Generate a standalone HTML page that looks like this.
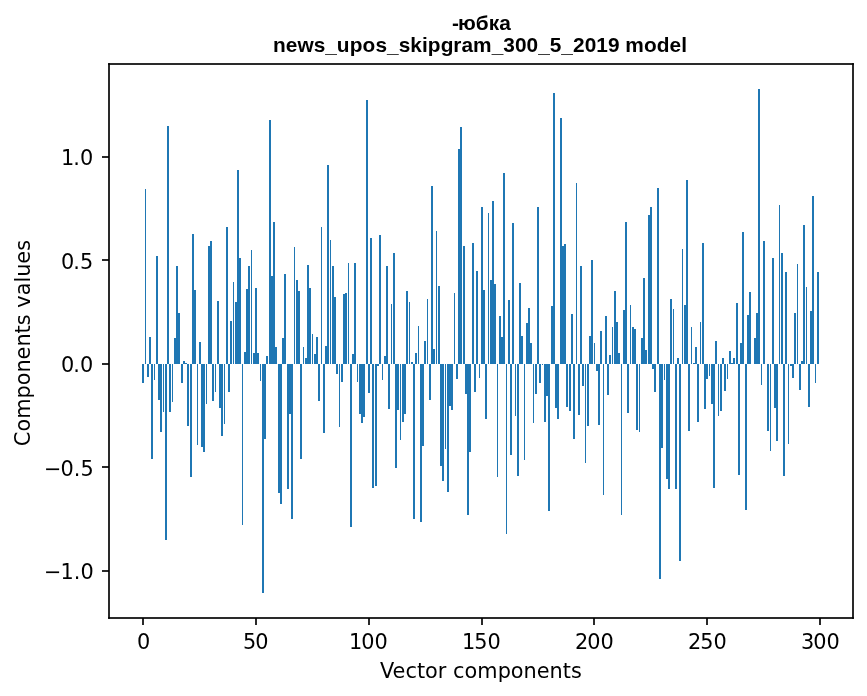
<!DOCTYPE html>
<html lang="ru">
<head>
<meta charset="utf-8">
<title>-юбка news_upos_skipgram_300_5_2019 model</title>
<style>
html,body{margin:0;padding:0;background:#fff;overflow:hidden}
svg{display:block}
text{fill:#000}
.d{font-family:"DejaVu Sans","Liberation Sans",sans-serif;font-size:20.8333px}
.b{font-family:"Liberation Sans","DejaVu Sans",sans-serif;font-size:20.8333px;font-weight:700}
</style>
</head>
<body>
<svg width="867" height="696" viewBox="0 0 867 696">
<rect width="867" height="696" fill="#fff"/>
<g shape-rendering="crispEdges">
<path fill="#1f77b4" d="M142 364h2v19h-2zM145 189h1v175h-1zM147 364h2v13h-2zM149 337h2v27h-2zM151 364h2v95h-2zM154 364h1v16h-1zM156 256h2v108h-2zM158 364h2v36h-2zM160 364h2v68h-2zM163 364h1v48h-1zM165 364h2v176h-2zM167 126h2v238h-2zM169 364h2v48h-2zM172 364h1v38h-1zM174 338h2v26h-2zM176 266h2v98h-2zM178 313h2v51h-2zM181 364h2v19h-2zM183 361h2v3h-2zM185 363h2v1h-2zM187 364h2v62h-2zM190 364h2v113h-2zM192 234h2v130h-2zM194 290h2v74h-2zM197 364h1v81h-1zM199 342h2v22h-2zM201 364h2v83h-2zM203 364h2v88h-2zM206 364h1v40h-1zM208 246h2v118h-2zM210 241h2v123h-2zM212 364h2v37h-2zM215 364h1v28h-1zM217 301h2v63h-2zM219 364h2v44h-2zM221 364h2v72h-2zM224 364h1v60h-1zM226 227h2v137h-2zM228 364h2v28h-2zM230 321h2v43h-2zM233 282h1v82h-1zM235 302h2v62h-2zM237 170h2v194h-2zM239 258h2v106h-2zM242 364h1v161h-1zM244 352h2v12h-2zM246 289h2v75h-2zM248 266h2v98h-2zM251 250h1v114h-1zM253 353h2v11h-2zM255 288h2v76h-2zM257 353h2v11h-2zM260 364h1v17h-1zM262 364h2v229h-2zM264 364h2v75h-2zM266 356h2v8h-2zM269 120h2v244h-2zM271 276h2v88h-2zM273 222h2v142h-2zM275 347h2v17h-2zM278 364h2v129h-2zM280 364h2v140h-2zM282 338h2v26h-2zM284 274h2v90h-2zM287 364h2v125h-2zM289 364h2v50h-2zM291 364h2v155h-2zM294 247h1v117h-1zM296 280h2v84h-2zM298 291h2v73h-2zM300 364h2v95h-2zM303 347h1v17h-1zM305 358h2v6h-2zM307 265h2v99h-2zM309 288h2v76h-2zM312 334h1v30h-1zM314 354h2v10h-2zM316 337h2v27h-2zM318 364h2v37h-2zM321 227h1v137h-1zM323 364h2v69h-2zM325 346h2v18h-2zM327 165h2v199h-2zM330 240h1v124h-1zM332 266h2v98h-2zM334 297h2v67h-2zM336 364h2v10h-2zM339 364h1v63h-1zM341 364h2v18h-2zM343 294h2v70h-2zM345 293h2v71h-2zM348 263h1v101h-1zM350 364h2v163h-2zM352 354h2v10h-2zM354 263h2v101h-2zM357 364h1v18h-1zM359 364h2v50h-2zM361 364h2v59h-2zM363 364h2v53h-2zM366 100h2v264h-2zM368 364h2v29h-2zM370 238h2v126h-2zM372 364h2v124h-2zM375 364h2v122h-2zM377 364h2v2h-2zM379 235h2v129h-2zM382 364h1v16h-1zM384 356h2v8h-2zM386 266h2v98h-2zM388 364h2v45h-2zM391 304h1v60h-1zM393 253h2v111h-2zM395 364h2v104h-2zM397 364h2v46h-2zM400 364h1v76h-1zM402 364h2v58h-2zM404 364h2v50h-2zM406 291h2v73h-2zM409 302h1v62h-1zM411 362h2v2h-2zM413 364h2v155h-2zM415 353h2v11h-2zM418 326h1v38h-1zM420 364h2v158h-2zM422 364h2v82h-2zM424 341h2v23h-2zM427 299h1v65h-1zM429 364h2v36h-2zM431 186h2v178h-2zM433 349h2v15h-2zM436 231h1v133h-1zM438 286h2v78h-2zM440 364h2v102h-2zM442 364h2v117h-2zM445 364h1v85h-1zM447 364h2v128h-2zM449 364h2v42h-2zM451 364h2v46h-2zM454 293h1v71h-1zM456 364h2v15h-2zM458 149h2v215h-2zM460 127h2v237h-2zM463 246h2v118h-2zM465 364h2v30h-2zM467 364h2v151h-2zM469 364h2v88h-2zM472 243h2v121h-2zM474 364h2v28h-2zM476 271h2v93h-2zM479 364h1v14h-1zM481 207h2v157h-2zM483 290h2v74h-2zM485 364h2v55h-2zM488 213h1v151h-1zM490 280h2v84h-2zM492 201h2v163h-2zM494 284h2v80h-2zM497 364h1v113h-1zM499 316h2v48h-2zM501 337h2v27h-2zM503 173h2v191h-2zM506 364h1v170h-1zM508 300h2v64h-2zM510 364h2v91h-2zM512 223h2v141h-2zM515 364h1v52h-1zM517 364h2v112h-2zM519 283h2v81h-2zM521 336h2v28h-2zM524 364h1v96h-1zM526 323h2v41h-2zM528 308h2v56h-2zM530 343h2v21h-2zM533 364h1v59h-1zM535 364h2v30h-2zM537 207h2v157h-2zM539 364h2v19h-2zM542 364h1v1h-1zM544 364h2v58h-2zM546 364h2v32h-2zM548 364h2v147h-2zM551 306h2v58h-2zM553 93h2v271h-2zM555 364h2v44h-2zM557 364h2v55h-2zM560 118h2v246h-2zM562 246h2v118h-2zM564 244h2v120h-2zM566 364h2v43h-2zM569 364h2v47h-2zM571 314h2v50h-2zM573 364h2v75h-2zM576 183h1v181h-1zM578 364h2v51h-2zM580 266h2v98h-2zM582 364h2v22h-2zM585 364h1v99h-1zM587 364h2v62h-2zM589 336h2v28h-2zM591 260h2v104h-2zM594 343h1v21h-1zM596 364h2v7h-2zM598 364h2v61h-2zM600 331h2v33h-2zM603 364h1v131h-1zM605 316h2v48h-2zM607 364h2v31h-2zM609 355h2v9h-2zM612 327h1v37h-1zM614 291h2v73h-2zM616 322h2v42h-2zM618 353h2v11h-2zM621 364h1v151h-1zM623 310h2v54h-2zM625 222h2v142h-2zM627 364h2v49h-2zM630 305h1v59h-1zM632 327h2v37h-2zM634 329h2v35h-2zM636 364h2v66h-2zM639 364h1v68h-1zM641 338h2v26h-2zM643 278h2v86h-2zM645 350h2v14h-2zM648 215h2v149h-2zM650 207h2v157h-2zM652 364h2v5h-2zM654 364h2v28h-2zM657 188h2v176h-2zM659 364h2v215h-2zM661 364h2v84h-2zM664 364h1v16h-1zM666 364h2v115h-2zM668 364h2v125h-2zM670 299h2v65h-2zM673 309h1v55h-1zM675 364h2v125h-2zM677 358h2v6h-2zM679 364h2v197h-2zM682 249h1v115h-1zM684 305h2v59h-2zM686 180h2v184h-2zM688 364h2v67h-2zM691 327h1v37h-1zM693 363h2v1h-2zM695 347h2v17h-2zM697 364h2v58h-2zM700 322h1v42h-1zM702 243h2v121h-2zM704 364h2v45h-2zM706 364h2v15h-2zM709 364h1v12h-1zM711 364h2v40h-2zM713 364h2v124h-2zM715 341h2v23h-2zM718 364h1v52h-1zM720 364h2v47h-2zM722 358h2v6h-2zM724 364h2v27h-2zM727 364h1v15h-1zM729 351h2v13h-2zM731 363h2v1h-2zM733 358h2v6h-2zM736 303h2v61h-2zM738 364h2v111h-2zM740 343h2v21h-2zM742 232h2v132h-2zM745 364h2v146h-2zM747 315h2v49h-2zM749 292h2v72h-2zM754 338h2v26h-2zM756 313h2v51h-2zM758 89h2v275h-2zM761 364h1v21h-1zM763 241h2v123h-2zM767 364h2v67h-2zM770 364h1v87h-1zM772 258h2v106h-2zM774 364h2v44h-2zM776 364h2v77h-2zM779 205h1v159h-1zM781 253h2v111h-2zM783 364h2v112h-2zM785 272h2v92h-2zM788 364h1v80h-1zM790 364h2v2h-2zM792 364h2v14h-2zM794 313h2v51h-2zM797 264h1v100h-1zM799 364h2v26h-2zM801 361h2v3h-2zM803 225h2v139h-2zM806 287h1v77h-1zM808 364h2v43h-2zM810 311h2v53h-2zM812 196h2v168h-2zM815 364h1v19h-1zM817 272h2v92h-2z"/>
<path fill="#070707" d="M109 64h1v1h-1zM852 64h1v1h-1zM108 156h1v2h-1zM108 259h1v2h-1zM108 363h1v2h-1zM108 466h1v2h-1zM108 570h1v2h-1zM109 617h1v1h-1zM852 617h1v1h-1zM142 618h2v1h-2zM255 618h2v1h-2zM368 618h2v1h-2zM481 618h2v1h-2zM593 618h2v1h-2zM706 618h2v1h-2zM819 618h2v1h-2z"/>
<path fill="#0c0c0c" d="M109 63h1v1h-1zM852 63h1v1h-1zM108 64h1v1h-1zM853 64h1v1h-1zM108 617h1v1h-1zM853 617h1v1h-1zM109 618h1v1h-1zM852 618h1v1h-1z"/>
<path fill="#171717" d="M108 63h1v1h-1zM853 63h1v1h-1zM108 618h1v1h-1zM853 618h1v1h-1z"/>
<path fill="#2a2a2a" d="M110 63h742v2h-742zM108 65h2v91h-2zM852 65h2v552h-2zM102 156h6v2h-6zM109 156h1v2h-1zM108 158h2v101h-2zM102 259h6v2h-6zM109 259h1v2h-1zM108 261h2v102h-2zM102 363h6v2h-6zM109 363h1v2h-1zM108 365h2v101h-2zM102 466h6v2h-6zM109 466h1v2h-1zM108 468h2v102h-2zM102 570h6v2h-6zM109 570h1v2h-1zM108 572h2v45h-2zM110 617h742v1h-742zM110 618h32v1h-32zM144 618h111v1h-111zM257 618h111v1h-111zM370 618h111v1h-111zM483 618h110v1h-110zM595 618h111v1h-111zM708 618h111v1h-111zM821 618h31v1h-31zM142 619h2v6h-2zM255 619h2v6h-2zM368 619h2v6h-2zM481 619h2v6h-2zM593 619h2v6h-2zM706 619h2v6h-2zM819 619h2v6h-2z"/>


</g>
<g>
<text class="b" x="452 458 475.75 488.625 499.25" y="29.598">-юбка</text>
<text class="b" x="273 285.625 297.5 313.75 325.125 336.625 349.75 362.375 375.375 387 398.625 410.25 421.875 427.75 440.625 453.125 461.5 472.875 491.75 503.125 515 526.375 538.25 549.625 561.125 572.875 584.625 596.125 607.875 619.75 625.125 643.875 656.625 669.375 681.125" y="51.538">news_upos_skipgram_300_5_2019 model</text>
<text class="d" x="137" y="648.851">0</text>
<text class="d" x="242.875 255.125" y="648.851">50</text>
<text class="d" x="348.875 361.125 374.375" y="648.851">100</text>
<text class="d" x="461.875 474.125 487.375" y="648.851">150</text>
<text class="d" x="575 587.25 600.5" y="648.851">200</text>
<text class="d" x="688 700.25 713.5" y="648.851">250</text>
<text class="d" x="800.875 813.125 826.375" y="648.851">300</text>
<text class="d" x="379.875 392.375 405.5 417 424.875 437.625 446.5 452.875 464.5 477.25 497.625 510.75 523.5 536.75 549.5 562.75 570.875" y="677.847">Vector components</text>
<text class="d" x="61 73.25 79.875" y="164.5">1.0</text>
<text class="d" x="61 73.25 79.875" y="268.5">0.5</text>
<text class="d" x="61 73.25 79.875" y="371.5">0.0</text>
<text class="d" x="44 60.5 73.75 80.375" y="475.5">−0.5</text>
<text class="d" x="44 60.5 73.75 80.375" y="578.5">−1.0</text>
<text class="d" transform="translate(29.83 342.988) rotate(-90)" x="-103.375 -88.5 -75.75 -55.5 -42.25 -29.5 -16.625 -3.5 9.375 17.625 28.75 35.125 47.625 60.375 66.25 79.125 92.25" y="0">Components values</text>
</g>
</svg>
</body>
</html>
